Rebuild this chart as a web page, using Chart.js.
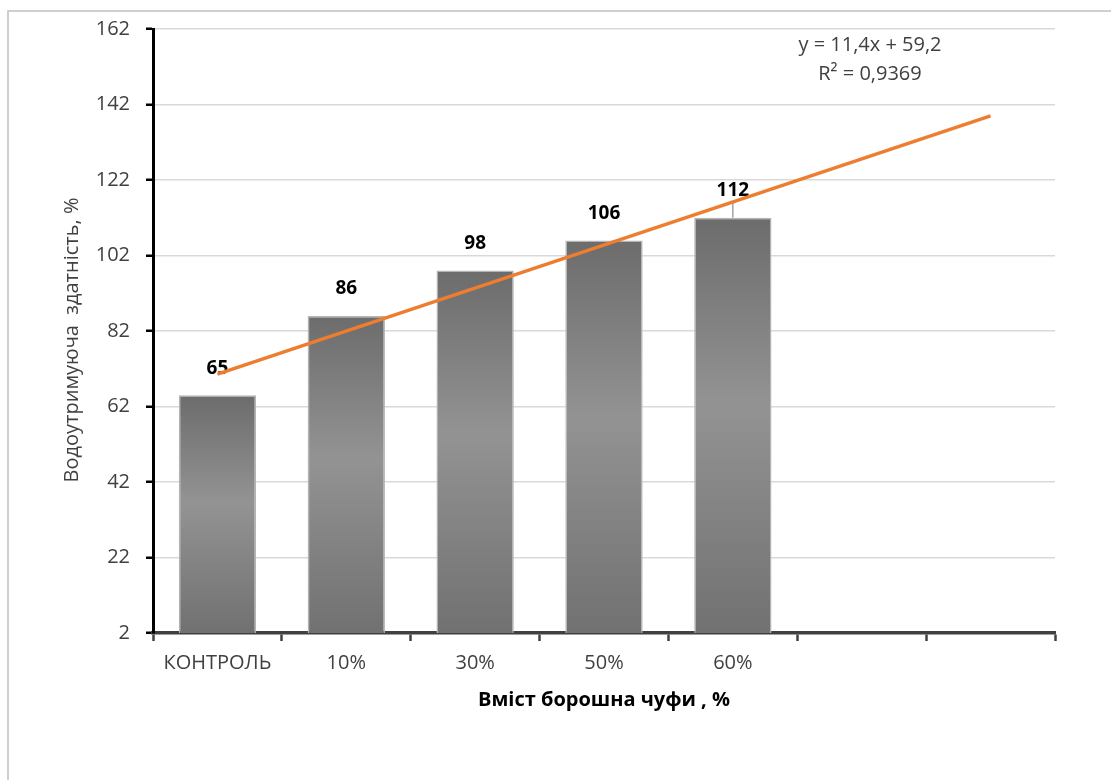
<!DOCTYPE html>
<html>
<head>
<meta charset="utf-8">
<script src="https://cdn.jsdelivr.net/npm/chart.js@4.4.1/dist/chart.umd.min.js"></script>
<style>
  html, body { margin: 0; padding: 0; background: #fff; }
  #wrap { width: 1111px; height: 780px; position: relative; }
</style>
</head>
<body>
<div id="wrap"><canvas id="waterChart" width="1111" height="780"></canvas></div>
<script>
// chart data
const categories = ["КОНТРОЛЬ", "10%", "30%", "50%", "60%", "", ""];
const waterValues = [65, 86, 98, 106, 112, null, null];
const errorPlus = [0, 0, 0, 0, 4, 0, 0];
// linear trend y = 11,4x + 59,2, end points
const trendValues = [70.6, null, null, null, null, null, 139];
const yTicks = [2, 22, 42, 62, 82, 102, 122, 142, 162];
const trendText = ["y = 11,4x + 59,2", "R² = 0,9369"];
const yTitle = "Водоутримуюча  здатність, %";

const FONT = "'Open Sans', sans-serif";

function barGradient(ctx) {
  const chart = ctx.chart;
  const { chartArea, scales } = chart;
  if (!chartArea || ctx.raw == null) return "#808080";
  const top = scales.y.getPixelForValue(ctx.raw);
  const bottom = scales.y.getPixelForValue(yTicks[0]);
  const g = chart.ctx.createLinearGradient(0, top, 0, bottom);
  g.addColorStop(0, "#6c6c6c");
  g.addColorStop(0.45, "#939393");
  g.addColorStop(1, "#717171");
  return g;
}

// outer frame, data labels, error bars, axis title, trend equation
const extras = {
  id: "extras",
  beforeDraw(chart) {
    const c = chart.ctx;
    c.save();
    c.fillStyle = "#fff";
    c.fillRect(0, 0, chart.width, chart.height);
    c.strokeStyle = "#c0c0c0";
    c.lineWidth = 1.5;
    c.beginPath();
    c.moveTo(8, chart.height);
    c.lineTo(8, 11);
    c.lineTo(chart.width, 11);
    c.stroke();
    c.restore();
  },
  afterDatasetDraw(chart, args) {
    if (args.index !== 0) return;
    const c = chart.ctx;
    const y = chart.scales.y;
    const meta = chart.getDatasetMeta(0);
    c.save();
    meta.data.forEach((bar, i) => {
      if (waterValues[i] == null) return;
      if (errorPlus[i] > 0) {
        c.strokeStyle = "#8c8c8c";
        c.lineWidth = 1.2;
        c.beginPath();
        c.moveTo(bar.x, bar.y);
        c.lineTo(bar.x, y.getPixelForValue(waterValues[i] + errorPlus[i]));
        c.stroke();
      }
      c.fillStyle = "#000";
      c.font = "bold 19px " + FONT;
      c.textAlign = "center";
      c.textBaseline = "middle";
      c.fillText(String(waterValues[i]), bar.x, bar.y - 27);
    });
    c.restore();
  },
  afterDraw(chart) {
    const c = chart.ctx;
    c.save();
    c.fillStyle = "#404040";
    c.font = "20px " + FONT;
    c.textAlign = "center";
    c.textBaseline = "middle";
    c.fillText(trendText[0], 870, 45);
    c.fillText(trendText[1], 870, 74);
    c.translate(72, 340);
    c.rotate(-Math.PI / 2);
    c.fillText(yTitle, 0, 0);
    c.restore();
  }
};

new Chart(document.getElementById("waterChart"), {
  type: "bar",
  data: {
    labels: categories,
    datasets: [
      {
        type: "bar",
        data: waterValues,
        backgroundColor: barGradient,
        borderColor: "#b4b4b4",
        borderWidth: 1.5,
        barPercentage: 0.6,
        categoryPercentage: 1,
        order: 1
      },
      {
        type: "line",
        data: trendValues,
        borderColor: "#ED7D31",
        borderWidth: 3.5,
        pointRadius: 0,
        spanGaps: true,
        fill: false,
        order: 0
      }
    ]
  },
  options: {
    responsive: false,
    animation: false,
    layout: { padding: { left: 0, top: 29, right: 56, bottom: 0 } },
    plugins: { legend: { display: false }, tooltip: { enabled: false } },
    scales: {
      x: {
        offset: true,
        grid: { offset: true, drawOnChartArea: false, tickColor: "#404040", tickLength: 8, tickWidth: 2.5 },
        border: { color: "#404040", width: 3.5 },
        ticks: { color: "#404040", font: { family: FONT, size: 20 }, padding: 10, maxRotation: 0, autoSkip: false },
        title: {
          display: true,
          text: "Вміст борошна чуфи , %",
          color: "#000",
          font: { family: FONT, size: 20, weight: "bold" },
          padding: { top: 0, bottom: 68 }
        },
        afterFit(s) { s.height = 780 - 633; }
      },
      y: {
        min: yTicks[0],
        max: yTicks[yTicks.length - 1],
        afterBuildTicks(s) { s.ticks = yTicks.map(v => ({ value: v })); },
        grid: { color: "#d9d9d9", lineWidth: 1.5, tickColor: "#000", tickLength: 7, tickWidth: 2.5 },
        border: { color: "#000", width: 3 },
        ticks: { color: "#404040", font: { family: FONT, size: 20 }, padding: 16 },
        afterFit(s) { s.width = 153; }
      }
    }
  },
  plugins: [extras]
});
</script>
</body>
</html>
